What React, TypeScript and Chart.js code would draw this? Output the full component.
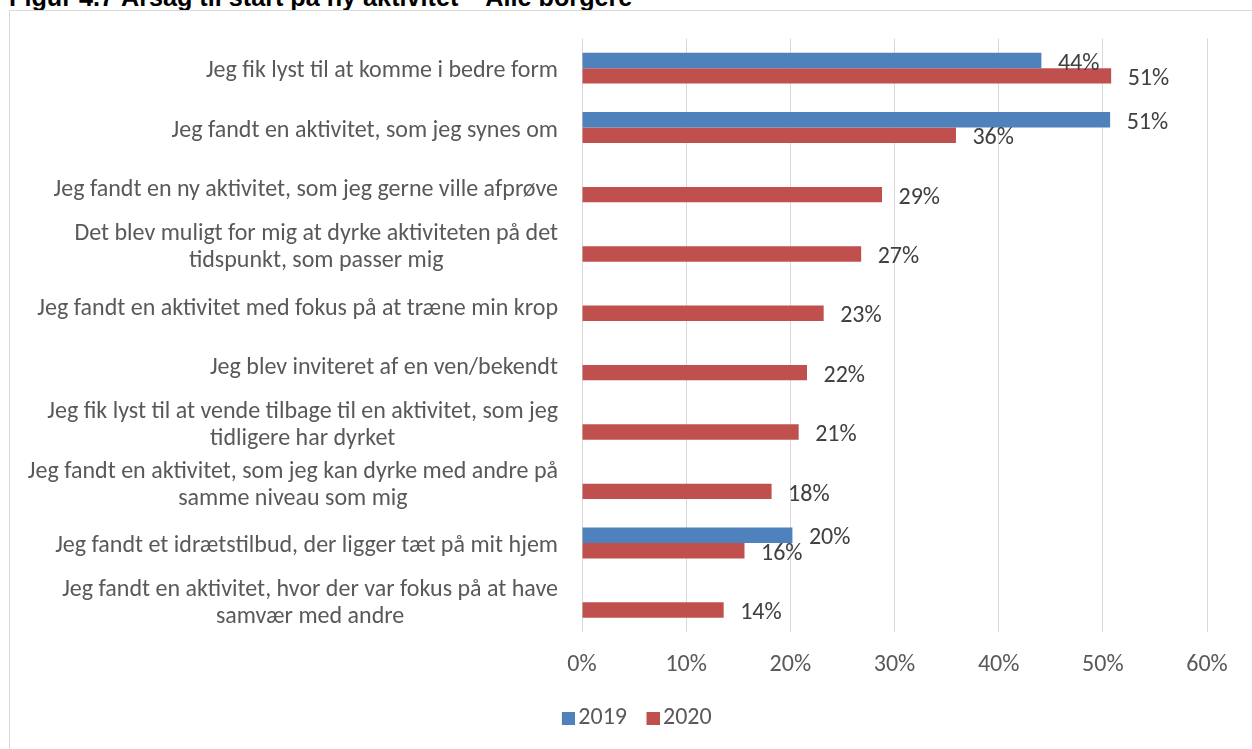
import React, { useEffect, useRef } from "react";
import { Chart, registerables } from "chart.js";

Chart.register(...registerables);

const title = "Figur 4.7 Årsag til start på ny aktivitet – Alle borgere";

const categories: string[][] = [
  ["Jeg fik lyst til at komme i bedre form"],
  ["Jeg fandt en aktivitet, som jeg synes om"],
  ["Jeg fandt en ny aktivitet, som jeg gerne ville afprøve"],
  ["Det blev muligt for mig at dyrke aktiviteten på det", "tidspunkt, som passer mig"],
  ["Jeg fandt en aktivitet med fokus på at træne min krop"],
  ["Jeg blev inviteret af en ven/bekendt"],
  ["Jeg fik lyst til at vende tilbage til en aktivitet, som jeg", "tidligere har dyrket"],
  ["Jeg fandt en aktivitet, som jeg kan dyrke med andre på", "samme niveau som mig"],
  ["Jeg fandt et idrætstilbud, der ligger tæt på mit hjem"],
  ["Jeg fandt en aktivitet, hvor der var fokus på at have", "samvær med andre"],
];

const seriesNames = ["2019", "2020"];
const values2019: (number | null)[] = [44.1, 50.7, null, null, null, null, null, null, 20.2, null];
const values2020: (number | null)[] = [50.8, 35.9, 28.8, 26.8, 23.2, 21.6, 20.8, 18.2, 15.6, 13.6];
const xTicks = [0, 10, 20, 30, 40, 50, 60];

const BLUE = "#4f81bd";
const RED = "#c0504d";
const FONT = "Carlito, Lato, sans-serif";
const FS = 24;

function makeLegendImg(color: string) {
  const c = document.createElement("canvas");
  c.width = 30;
  c.height = 13;
  const g = c.getContext("2d")!;
  g.fillStyle = color;
  g.fillRect(17, 0, 13, 13);
  return c;
}

export default function App() {
  const ref = useRef<HTMLCanvasElement>(null);

  useEffect(() => {
    const canvas = ref.current!;
    const imgs = [makeLegendImg(BLUE), makeLegendImg(RED)];

    const catLabels = {
      id: "catLabels",
      afterDraw(chart: any) {
        const ctx = chart.ctx;
        const ys = chart.scales.y;
        const right = chart.chartArea.left - 24;
        ctx.save();
        ctx.font = `${FS}px ${FONT}`;
        ctx.fillStyle = "#595959";
        ctx.textAlign = "center";
        ctx.textBaseline = "middle";
        categories.forEach((lines, i) => {
          const cy = ys.getPixelForValue(i) + (lines.length > 1 ? 1.5 : 3);
          const maxW = Math.max(...lines.map((l) => ctx.measureText(l).width));
          const cx = right - maxW / 2;
          lines.forEach((l, j) => {
            ctx.fillText(l, cx, cy + (j - (lines.length - 1) / 2) * 27);
          });
        });
        ctx.restore();
      },
    };

    const valueLabels = {
      id: "valueLabels",
      afterDatasetsDraw(chart: any) {
        const ctx = chart.ctx;
        ctx.save();
        ctx.font = `${FS}px ${FONT}`;
        ctx.fillStyle = "#404040";
        ctx.textAlign = "left";
        ctx.textBaseline = "middle";
        chart.data.datasets.forEach((ds: any, di: number) => {
          const meta = chart.getDatasetMeta(di);
          meta.data.forEach((bar: any, i: number) => {
            const v = ds.data[i];
            if (v == null) return;
            ctx.fillText(Math.round(v) + "%", bar.x + 16.5, bar.y + 3.2);
          });
        });
        ctx.restore();
      },
    };

    const shiftLegend = {
      id: "shiftLegend",
      afterLayout(chart: any) {
        const lg = chart.legend;
        if (lg) {
          lg.left += 24;
          lg.right += 24;
        }
      },
    };

    const chart = new Chart(canvas, {
      type: "bar",
      data: {
        labels: categories.map((c) => c.join(" ")),
        datasets: [
          { label: seriesNames[0], data: values2019, backgroundColor: BLUE, categoryPercentage: 0.52, barPercentage: 1 },
          { label: seriesNames[1], data: values2020, backgroundColor: RED, categoryPercentage: 0.52, barPercentage: 1 },
        ],
      },
      options: {
        indexAxis: "y",
        responsive: false,
        animation: false,
        layout: { padding: { top: 27.5, right: 59, bottom: 31, left: 0 } },
        scales: {
          x: {
            min: xTicks[0],
            max: xTicks[xTicks.length - 1],
            afterBuildTicks: (s: any) => {
              s.ticks = xTicks.map((v) => ({ value: v }));
            },
            afterFit: (s: any) => {
              s.height = 63;
            },
            grid: { color: "#d9d9d9", lineWidth: 1, drawTicks: false },
            border: { display: false },
            ticks: {
              padding: 19,
              color: "#595959",
              font: { family: FONT, size: FS },
              callback: (v: any) => v + "%",
            },
          },
          y: {
            grid: { display: false },
            border: { display: false },
            ticks: { display: false },
            afterFit: (s: any) => {
              s.width = 572;
            },
          },
        },
        plugins: {
          legend: {
            position: "bottom",
            labels: {
              usePointStyle: true,
              pointStyleWidth: 13,
              boxHeight: 13,
              padding: 11,
              color: "#595959",
              font: { family: FONT, size: FS },
              generateLabels: (ch: any) => {
                const items = (Chart as any).defaults.plugins.legend.labels.generateLabels(ch);
                items.forEach((it: any, i: number) => {
                  it.pointStyle = imgs[i];
                });
                return items;
              },
            },
          },
          tooltip: { enabled: false },
        },
      },
      plugins: [catLabels, valueLabels, shiftLegend],
    });

    return () => chart.destroy();
  }, []);

  return (
    <div style={{ position: "fixed", inset: 0, overflow: "hidden", background: "#fff" }}>
      <div
        style={{
          position: "absolute",
          left: 9,
          top: -14.7,
          font: 'bold 25.2px "Liberation Sans", Arial, sans-serif',
          lineHeight: "25px",
          whiteSpace: "nowrap",
          color: "#000",
        }}
      >
        {title}
      </div>
      <div style={{ position: "absolute", left: 9, top: 10, width: 1256, height: 760, border: "1px solid #d9d9d9" }}>
        <canvas ref={ref} width={1256} height={760} style={{ display: "block", width: 1256, height: 760 }} />
      </div>
    </div>
  );
}
